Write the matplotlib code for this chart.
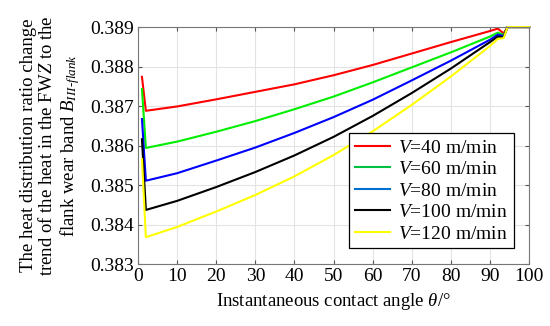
import matplotlib
matplotlib.use("Agg")
import matplotlib.pyplot as plt

plt.rcParams['font.family'] = ['Liberation Serif', 'DejaVu Serif']
plt.rcParams['mathtext.fontset'] = 'custom'
plt.rcParams['mathtext.rm'] = 'Liberation Serif'
plt.rcParams['mathtext.it'] = 'Liberation Serif:italic'

theta = [1, 2, 10, 20, 30, 40, 50, 60, 70, 80, 90, 92, 93.5, 94.5, 100]
v40 = [0.38774, 0.38688, 0.38699, 0.38717, 0.38736, 0.38755, 0.38778, 0.38804,
       0.38833, 0.38862, 0.38890, 0.38896, 0.38884, 0.38900, 0.38900]
v60 = [0.38743, 0.38594, 0.38610, 0.38635, 0.38662, 0.38692, 0.38724, 0.38760,
       0.38798, 0.38836, 0.38876, 0.38886, 0.38880, 0.38900, 0.38900]
v80 = [0.38667, 0.38511, 0.38530, 0.38562, 0.38595, 0.38632, 0.38672, 0.38716,
       0.38765, 0.38815, 0.38868, 0.38881, 0.38877, 0.38900, 0.38900]
v100 = [0.38616, 0.38437, 0.38460, 0.38495, 0.38533, 0.38575, 0.38622, 0.38675,
        0.38733, 0.38795, 0.38862, 0.38876, 0.38874, 0.38900, 0.38900]
v120 = [0.38566, 0.38368, 0.38394, 0.38433, 0.38475, 0.38522, 0.38576, 0.38636,
        0.38703, 0.38775, 0.38852, 0.38870, 0.38872, 0.38900, 0.38900]

series = [v40, v60, v80, v100, v120]
labels = [r'$V$=40 m/min', r'$V$=60 m/min', r'$V$=80 m/min',
          r'$V$=100 m/min', r'$V$=120 m/min']
colors = ['#ff0000', '#00ee00', '#0000ff', '#000000', '#ffff00']

fig = plt.figure(figsize=(5.5, 3.26), dpi=100)
ax = fig.add_axes([0.251, 0.190, 0.711, 0.727])

for y, lab, c in zip(series, labels, colors):
    ax.plot(theta, y, color=c, lw=1.5, label=lab, clip_on=False)

ax.set_xlim(0, 100)
ax.set_ylim(0.383, 0.389)
ax.set_xticks(range(0, 101, 10))
ax.set_yticks([0.383, 0.384, 0.385, 0.386, 0.387, 0.388, 0.389])
ax.yaxis.set_major_formatter(matplotlib.ticker.FormatStrFormatter('%.3f'))
ax.grid(True, color='#e3e3e3', lw=0.8)
ax.tick_params(direction='in', top=True, right=True, labelsize=14,
               length=3, color='#555555', pad=3)
for s in ax.spines.values():
    s.set_color('#777777')
    s.set_linewidth(0.8)

ax.set_xlabel(r'Instantaneous contact angle $\theta$/°', fontsize=13.5, labelpad=4)
ax.set_ylabel('The heat distribution ratio change\n'
              'trend of the heat in the FW$Z$ to the\n'
              r'flank wear band $B_{III\text{-}flank}$',
              fontsize=13.5, labelpad=6, linespacing=1.1)

leg = ax.legend(loc='lower right', bbox_to_anchor=(0.985, 0.025), fontsize=14,
                fancybox=False, edgecolor='black', framealpha=1,
                handlelength=1.8, handletextpad=0.4, labelspacing=0.2,
                borderpad=0.3)
leg.get_frame().set_linewidth(0.9)
legend_colors = ['#ff0000', '#00c040', '#0070d0', '#000000', '#ffff00']
for h, c in zip(leg.get_lines(), legend_colors):
    h.set_color(c)

fig.savefig('out.png', dpi=100)
